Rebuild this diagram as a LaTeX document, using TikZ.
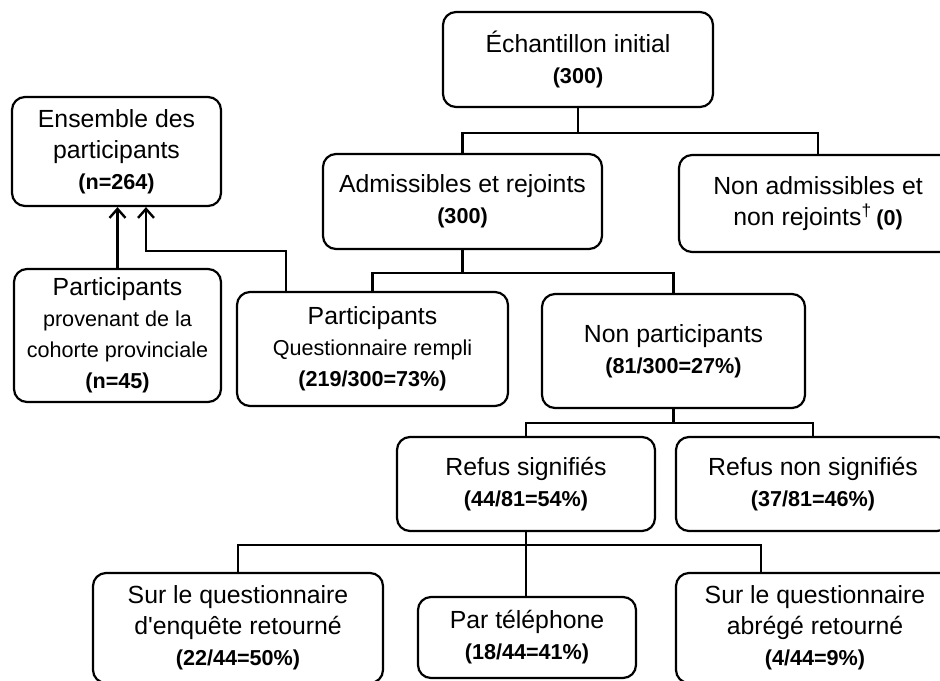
\documentclass[tikz,border=0pt]{standalone}
\usepackage{fontspec}
\setmainfont{Liberation Sans}
\usetikzlibrary{arrows.meta}
\newcommand{\nb}[1]{{\fontsize{10.8}{15.5}\selectfont\bfseries #1}}
\newcommand{\pt}[1]{{\fontsize{10.8}{15.5}\selectfont #1}}

\begin{document}
\begin{tikzpicture}
[
x=0.5pt, y=-0.5pt,
bloc/.style 2 args={draw,rounded corners=6.5pt,line width=1.1pt,align=center,inner sep=0pt,
            minimum width=#1,minimum height=#2,font=\fontsize{12.4}{15.5}\selectfont},
lien/.style={line width=1.1pt},
fleche/.style={line width=1.2pt,-{Straight Barb[length=4.5pt,width=8pt,line width=1.2pt]}},
]
\useasboundingbox (0,0) rectangle (940,680);
\clip (0,0) rectangle (940,680);

%Place the nodes
\node[bloc={135pt}{47.5pt}] (a) at (578,59.5) {Échantillon initial\\\nb{(300)}};
\node[bloc={104.5pt}{54.5pt}] (l) at (116.5,151.5) {Ensemble des\\participants\\\nb{(n=264)}};
\node[bloc={139.5pt}{47.5pt}] (b) at (462.5,201.5) {Admissibles et rejoints\\\nb{(300)}};
\node[bloc={139pt}{48.5pt}] (c) at (818,203.5) {Non admissibles et\\non rejoints\textsuperscript{\textdagger}\,\nb{(0)}};
\node[bloc={103.5pt}{66.5pt}] (k) at (117.5,335.5) {Participants\\\pt{provenant de la}\\\pt{cohorte provinciale}\\\nb{(n=45)}};
\node[bloc={135.5pt}{57pt}] (d) at (372.5,349) {Participants\\\pt{Questionnaire rempli}\\\nb{(219/300=73\%)}};
\node[bloc={131.5pt}{57pt}] (e) at (673.5,351) {Non participants\\\nb{(81/300=27\%)}};
\node[bloc={129pt}{47pt}] (f) at (526,484) {Refus signifiés\\\nb{(44/81=54\%)}};
\node[bloc={137pt}{47pt}] (g) at (813,484) {Refus non signifiés\\\nb{(37/81=46\%)}};
\node[bloc={145pt}{55pt}] (h) at (238,628) {Sur le questionnaire\\d\textquotesingle enquête retourné\\\nb{(22/44=50\%)}};
\node[bloc={109pt}{40.5pt}] (i) at (527,637.5) {Par téléphone\\\nb{(18/44=41\%)}};
\node[bloc={139pt}{55pt}] (j) at (815,628) {Sur le questionnaire\\abrégé retourné\\\nb{(4/44=9\%)}};

%Draw the connections
\draw[lien] (a.south) -- ++(0,25) -| (b.north);
\draw[lien] (a.south) -- ++(0,25) -| (c.north);
\draw[lien] (b.south) -- ++(0,23) -| (d.north);
\draw[lien] (b.south) -- ++(0,23) -| (e.north);
\draw[lien] (e.south) -- ++(0,14) -| (f.north);
\draw[lien] (e.south) -- ++(0,14) -| (g.north);
\draw[lien] (f.south) -- ++(0,13) -| (h.north);
\draw[lien] (f.south) -- (f.south |- i.north);
\draw[lien] (f.south) -- ++(0,13) -| ([xshift=43pt]j.north west);
%\draw[lien] (f.south) -- ++(0,13) -| (j.north);
\draw[fleche] (k.north) -- (k.north |- l.south);
\draw[fleche] ([xshift=25pt]d.north west) -- ++(0,-40) -| ([xshift=14.75pt]l.south);
\end{tikzpicture}
\end{document}
